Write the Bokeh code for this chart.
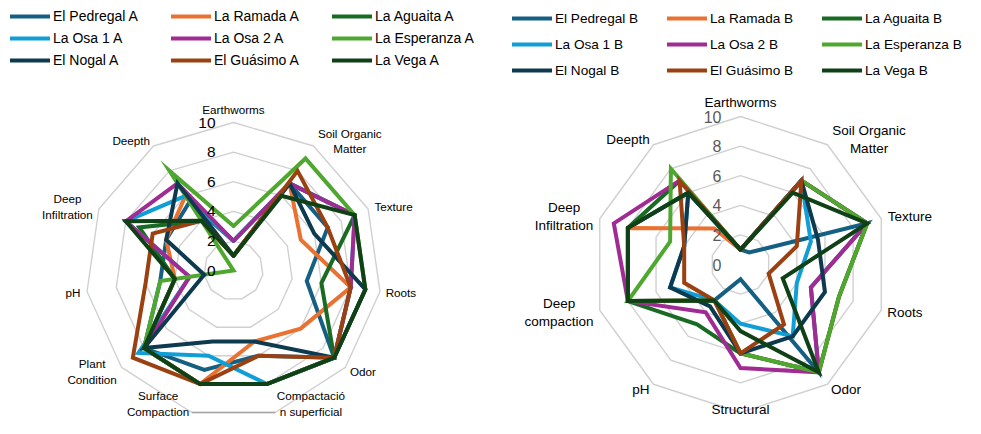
import math
from bokeh.plotting import figure
from bokeh.models import Range1d, Legend, LegendItem
from bokeh.layouts import row
from bokeh.embed import file_html
from bokeh.resources import INLINE
from bokeh.core.properties import value

# ---------------- data ----------------
colors = ["#156082", "#E97132", "#196B24", "#0F9ED5", "#A02B93",
          "#4EA72E", "#0D3A4E", "#9A4011", "#0F4016"]

names_a = ["El Pedregal A", "La Ramada A", "La Aguaita A", "La Osa 1 A", "La Osa 2 A",
           "La Esperanza A", "El Nogal A", "El Guásimo A", "La Vega A"]
axes_a = ["Earthworms", "Soil Organic\nMatter", "Texture", "Roots", "Odor",
          "Compactació\nn superficial", "Surface\nCompaction", "Plant\nCondition",
          "pH", "Deep\nInfiltration", "Deepth"]
pedregal_a = [2, 7, 7, 5, 9, 6, 7, 8, 5, 5, 5.5]
ramada_a = [1, 7, 5, 8, 6, 5, 8, 8, 4, 5, 6]
aguaita_a = [1, 7, 9, 6, 9, 8, 8, 8, 4, 7, 4]
osa1_a = [2, 7, 9, 8, 9, 8, 6, 8.5, 3, 8, 6]
osa2_a = [2, 7, 9, 8, 9, 8, 8, 8, 3, 8, 7]
esperanza_a = [3, 9, 9, 9, 9, 8, 8, 8, 5, 0, 8]
nogal_a = [1, 7, 6, 9, 9, 5, 5, 8, 2, 5, 7]
guasimo_a = [1, 8, 7, 8, 9, 6, 8, 9, 6, 6, 4]
vega_a = [1, 6, 9, 9, 9, 8, 8, 8, 4, 8, 4]
values_a = [pedregal_a, ramada_a, aguaita_a, osa1_a, osa2_a,
            esperanza_a, nogal_a, guasimo_a, vega_a]

names_b = ["El Pedregal B", "La Ramada B", "La Aguaita B", "La Osa 1 B", "La Osa 2 B",
           "La Esperanza B", "El Nogal B", "El Guásimo B", "La Vega B"]
axes_b = ["Earthworms", "Soil Organic\nMatter", "Texture", "Roots", "Odor",
          "Structural", "pH", "Deep\ncompaction", "Deep\nInfiltration", "Deepth"]
pedregal_b = [1, 1, 9, 5, 9, 1, 3, 8, 8, 6]
ramada_b = [1, 7, 9, 7, 9, 6, 3, 8, 8, 3]
aguaita_b = [1, 7, 9, 7, 9, 6, 5, 8, 8, 7]
osa1_b = [1, 7, 5, 4, 6, 4, 3, 5, 4, 6]
osa2_b = [1, 7, 9, 5, 9, 7, 4, 8, 9, 7]
esperanza_b = [1, 7, 9, 7, 9, 6, 3, 8, 5, 8]
nogal_b = [1, 7, 5.5, 6, 6, 6, 3.5, 5, 4, 6]
guasimo_b = [1, 7, 4, 2, 5, 6, 3, 4, 4, 7]
vega_b = [1, 6, 9, 3, 9, 4.5, 3, 8, 8, 6]
values_b = [pedregal_b, ramada_b, aguaita_b, osa1_b, osa2_b,
            esperanza_b, nogal_b, guasimo_b, vega_b]

ticks = [0, 2, 4, 6, 8, 10]

FONT = "Liberation Sans"
SCALE = 14.8  # px per unit


def radar(width, height, cx, cy, axes, values, names, colors, halfw,
          lab_size, lab_px, tick_size, tick_color, tick_dx,
          legend_xy, legend_pitch, legend_lw, legend_font, dark_bottom=False):
    p = figure(width=width, height=height,
               x_range=Range1d(-cx / SCALE, (width - cx) / SCALE),
               y_range=Range1d(-(height - cy) / SCALE, cy / SCALE),
               output_backend="svg", toolbar_location=None, min_border=0)
    p.axis.visible = False
    p.grid.visible = False
    p.outline_line_color = None
    p.background_fill_color = None
    p.border_fill_color = None

    n = len(axes)
    ang = [math.pi / 2 - 2 * math.pi * k / n for k in range(n)]
    cs = [math.cos(a) for a in ang]
    sn = [math.sin(a) for a in ang]

    for t in ticks[1:]:
        xs = [t * c for c in cs] + [t * cs[0]]
        ys = [t * s for s in sn] + [t * sn[0]]
        p.line(xs, ys, line_color="#d0d0d0", line_width=1.4)
    if dark_bottom:
        k1, k2 = n // 2, n // 2 + 1
        t = ticks[-1]
        p.line([t * cs[k1], t * cs[k2]], [t * sn[k1], t * sn[k2]],
               line_color="#a6a6a6", line_width=1.6)

    items = []
    for name, vals, col in zip(names, values, colors):
        xs = [v * c for v, c in zip(vals, cs)] + [vals[0] * cs[0]]
        ys = [v * s for v, s in zip(vals, sn)] + [vals[0] * sn[0]]
        r = p.line(xs, ys, line_color=col, line_width=4, line_join="miter",
                   line_cap="round")
        items.append(LegendItem(label=name, renderers=[r]))

    # tick labels
    p.text(x=[tick_dx / SCALE] * len(ticks), y=ticks, text=[str(t) for t in ticks],
           text_align="right", text_baseline="middle",
           text_font=value(FONT), text_font_size=tick_size, text_color=tick_color)

    # category labels
    R = ticks[-1] + 6 / SCALE
    bottom_limit = -(height - cy - 1) / SCALE
    lx, ly = [], []
    for k in range(n):
        x = R * cs[k]
        y = R * sn[k]
        nl = axes[k].count("\n") + 1
        half_h = nl * lab_px * 1.2 / 2 / SCALE
        if abs(cs[k]) < 0.05:
            y += (1 if sn[k] > 0 else -1) * halfw[k] / SCALE
        else:
            x += (1 if cs[k] > 0 else -1) * halfw[k] / SCALE
        # keep the text inside the canvas
        y = max(y, bottom_limit + half_h)
        lx.append(x)
        ly.append(y)
    p.text(x=lx, y=ly, text=axes, text_align="center", text_baseline="middle",
           text_font=value(FONT), text_font_size=lab_size, text_color="#000000",
           text_line_height=1.2)

    legend = Legend(items=items, orientation="horizontal", ncols=3,
                    location=legend_xy, label_text_font=FONT,
                    label_text_font_size=legend_font, label_text_color="#000000",
                    glyph_width=40, glyph_height=legend_pitch,
                    label_height=legend_pitch, label_width=legend_lw,
                    label_standoff=3, spacing=0, padding=0, margin=0,
                    border_line_alpha=0, background_fill_alpha=0)
    p.add_layout(legend)
    return p


halfw_a = [7, 33, 20, 15, 13, 34, 32, 25, 8, 26, 19]
halfw_b = [8, 38, 23, 18, 15, 8, 9, 35, 30, 22]

left = radar(490, 418, 233, 270, axes_a, values_a, names_a, colors, halfw_a,
             "11.7px", 11.7, "15.5px", "#000000", -18,
             (10, 347), 22, 118, "14px", dark_bottom=True)
right = radar(475, 418, 250, 264, axes_b, values_b, names_b, colors, halfw_b,
              "13.5px", 13.5, "16px", "#595959", -19,
              (22, 335), 26, 112, "13.6px")

layout = row(left, right)
open("out.html", "w").write(file_html(layout, INLINE))
